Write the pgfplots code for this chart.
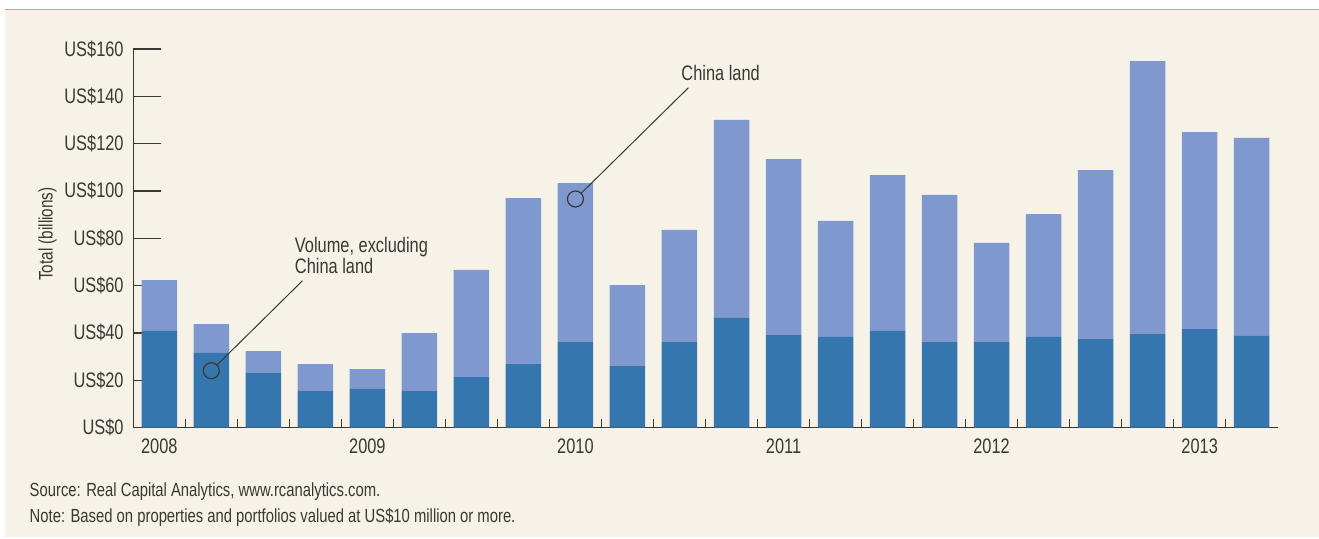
\documentclass[border=0pt]{standalone}
\usepackage{fontspec}
\setmainfont{Liberation Sans}[FakeStretch=0.78]
\usepackage{pgfplots}
\pgfplotsset{compat=1.18}
\definecolor{cream}{HTML}{F6F2E8}
\definecolor{gold}{HTML}{D6A35C}
\definecolor{darkblue}{HTML}{3676AE}
\definecolor{lightblue}{HTML}{7F99CF}
\definecolor{axisgray}{HTML}{3A3835}
\definecolor{textgray}{HTML}{3A3835}
\pgfplotstableread{
x dark light
0 40.8 21.5
1 31.5 12.2
2 23.0 9.3
3 15.4 11.4
4 16.3 8.4
5 15.4 24.5
6 21.3 45.3
7 27.0 70.0
8 36.1 67.2
9 26.0 34.2
10 36.1 47.4
11 46.3 83.7
12 39.1 74.4
13 38.3 49.0
14 40.8 65.9
15 36.1 62.2
16 36.1 41.9
17 38.3 51.9
18 37.4 71.4
19 39.5 115.4
20 41.6 83.3
21 38.7 83.7
}\datatable
\begin{document}
\begin{tikzpicture}
\fill[white] (0,0) rectangle (659.5pt,269pt);
\fill[cream] (2.5pt,0.5pt) rectangle (659.5pt,264.25pt);
\draw[gold, line width=0.7pt] (2.5pt,264.25pt) -- (659.5pt,264.25pt);
\begin{axis}[
  at={(66.65pt,55.25pt)}, anchor=south west,
  scale only axis, width=572.2pt, height=189.25pt,
  xmin=-0.5, xmax=21.5, ymin=0, ymax=160,
  clip=false,
  axis lines*=left,
  axis line style={axisgray, line width=0.65pt},
  ybar stacked, bar width=17.75pt,
  xtick={0,4,8,12,16,20},
  xticklabels={2008,2009,2010,2011,2012,2013},
  every major x tick/.append style={draw=none},
  minor xtick={0.5,1.5,...,20.5},
  ytick={0,20,40,60,80,100,120,140,160},
  yticklabels={US\$0,US\$20,US\$40,US\$60,US\$80,US\$100,US\$120,US\$140,US\$160},
  tick align=inside,
  major tick length=14pt, minor tick length=4.5pt,
  every tick/.style={axisgray, line width=0.65pt},
  tick label style={font=\fontsize{10.5}{12}\selectfont, text=textgray},
  yticklabel style={inner sep=0pt, xshift=-4.65pt},
  xticklabel style={inner sep=0pt, yshift=-5.25pt},
]
\addplot[fill=darkblue, draw=none] table[x=x, y=dark] {\datatable};
\addplot[fill=lightblue, draw=none] table[x=x, y=light] {\datatable};
\coordinate (c1) at (axis cs:1,24);
\coordinate (e1) at (axis cs:2.75,62);
\coordinate (c2) at (axis cs:8,96.6);
\coordinate (e2) at (axis cs:10.17,143.6);
\node[anchor=base west, inner sep=0pt, text=textgray, font=\fontsize{10.5}{12}\selectfont] at (axis cs:2.6,73.8) {Volume, excluding};
\node[anchor=base west, inner sep=0pt, text=textgray, font=\fontsize{10.5}{12}\selectfont] at (axis cs:2.6,65.3) {China land};
\node[anchor=base west, inner sep=0pt, text=textgray, font=\fontsize{10.5}{12}\selectfont] at (axis cs:10.03,146.6) {China land};
\end{axis}
\draw[axisgray, line width=0.6pt] (c1) circle[radius=4pt];
\draw[axisgray, line width=0.5pt] (e1) -- ([shift={(2.83pt,2.83pt)}]c1);
\draw[axisgray, line width=0.6pt] (c2) circle[radius=4pt];
\draw[axisgray, line width=0.5pt] (e2) -- ([shift={(2.83pt,2.83pt)}]c2);
\node[rotate=90, inner sep=0pt, text=textgray, font=\fontsize{9.8}{12}\selectfont] at (23.75pt,152pt) {Total (billions)};
\node[anchor=base west, inner sep=0pt, text=textgray, font=\fontsize{9.5}{12}\selectfont] at (14.65pt,20.65pt) {Source: Real Capital Analytics, www.rcanalytics.com.};
\node[anchor=base west, inner sep=0pt, text=textgray, font=\fontsize{9.5}{12}\selectfont] at (14.65pt,8pt) {Note: Based on properties and portfolios valued at US\$10 million or more.};
\pgfresetboundingbox
\useasboundingbox (0,0) rectangle (659.5pt,269pt);
\end{tikzpicture}
\end{document}
